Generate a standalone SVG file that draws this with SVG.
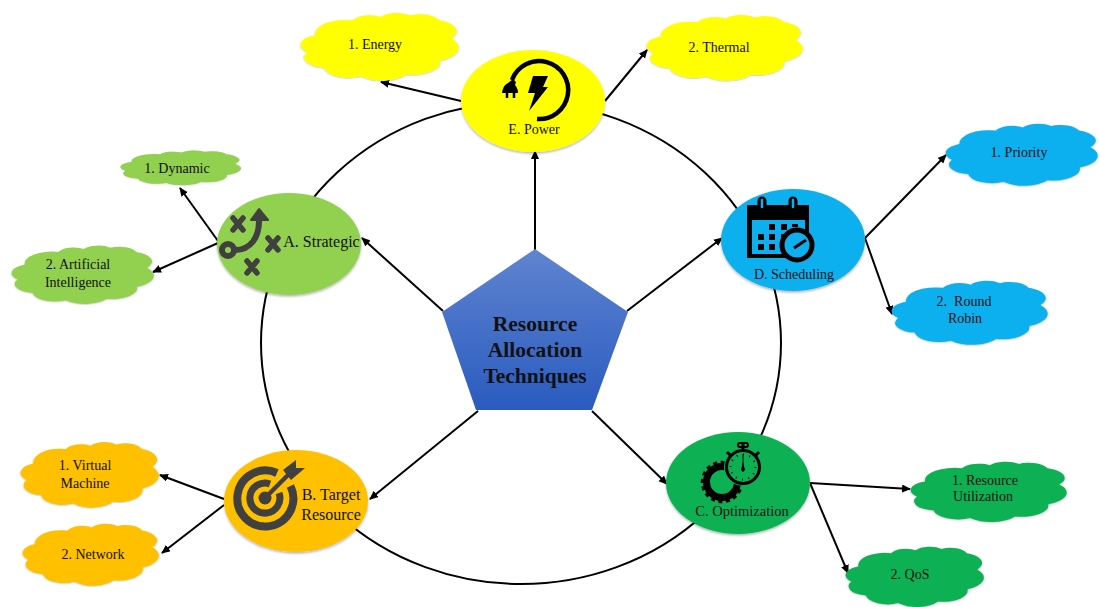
<svg xmlns="http://www.w3.org/2000/svg" width="1099" height="607" viewBox="0 0 1099 607">
<style>
text{font-family:"Liberation Serif","Times New Roman",serif;font-size:14px;fill:#111;text-anchor:middle}
.title{font-weight:bold;font-size:21.500px}
.lg{font-size:16px}
.conn{fill:none;stroke:#000;stroke-width:2;marker-end:url(#arr)}
.ring{fill:none;stroke:#000;stroke-width:2}
.sh{filter:url(#shadow)}
.g{fill:#92d050}.y{fill:#ffff00}.b{fill:#0db0ef}.e{fill:#0cb052}.o{fill:#ffc000}
.dk{fill:none;stroke:#404040;stroke-width:6;stroke-linecap:round}
.dx{fill:none;stroke:#404040;stroke-width:5.500;stroke-linecap:round}
.k{fill:#000}
</style>
<defs>
<filter id="shadow" x="-10%" y="-10%" width="120%" height="125%"><feDropShadow dx="0" dy="1.5" stdDeviation="1.2" flood-color="#000" flood-opacity="0.3"/></filter>
<marker id="arr" markerUnits="userSpaceOnUse" markerWidth="10" markerHeight="10" refX="8" refY="4" orient="auto"><path d="M0,0L9,4L0,8z" fill="#000"/></marker>
<linearGradient id="pent" x1="0" y1="0" x2="0" y2="1"><stop offset="0" stop-color="#5f84d0"/><stop offset="1" stop-color="#2a5bbf"/></linearGradient>
<path id="cloud" d="M-81,-32A28,28 0 0 0 -91,14A28,28 0 0 0 -70,56A31,31 0 0 0 -24,79A36,36 0 0 0 33,74A34,34 0 0 0 75,37A38,38 0 0 0 89,-23A31,31 0 0 0 74,-72A25,25 0 0 0 38,-85A24,24 0 0 0 1,-81A23,23 0 0 0 -34,-72A38,38 0 0 0 -81,-32Z"/>
</defs>
<g id="connectors">
<ellipse class="ring" cx="521" cy="343" rx="260" ry="241"/>
<path class="conn" d="M535,250L535,151"/>
<path class="conn" d="M627,311L722,238"/>
<path class="conn" d="M443,311L362,238"/>
<path class="conn" d="M478,411L370,499"/>
<path class="conn" d="M592,411L667,484"/>
<path class="conn" d="M461,101L381,82"/>
<path class="conn" d="M605,101L647,50"/>
<path class="conn" d="M865,238L946,155"/>
<path class="conn" d="M865,238L892,314"/>
<path class="conn" d="M810,483L910,489"/>
<path class="conn" d="M810,483L848,573"/>
<path class="conn" d="M224,499L160,475"/>
<path class="conn" d="M224,505L162,553"/>
<path class="conn" d="M218,241L180,188"/>
<path class="conn" d="M218,243L153,272"/>
</g>
<g id="center"><path d="M535,249L628,312L592,410L476,410L442,312Z" fill="url(#pent)"/><text class="title" x="535" y="331">Resource</text><text class="title" x="535" y="357">Allocation</text><text class="title" x="535" y="383">Techniques</text></g>
<g id="node-a"><ellipse class="g sh" cx="289" cy="244" rx="72" ry="51"/>
<circle cx="228" cy="250" r="6" fill="none" stroke="#404040" stroke-width="6"/>
<path class="dk" d="M235,250C250,250 260,238 259,218"/><path d="M259,209L268,220L251,220Z" fill="#404040" stroke="#404040" stroke-width="2" stroke-linejoin="round"/>
<path class="dx" d="M233,218L243,230M243,218L233,230M268,238L278,250M278,238L268,250M247,261L257,273M257,261L247,273"/>
<text class="lg" x="321.500" y="247">A. Strategic</text></g>
<g id="node-a1"><use href="#cloud" class="g sh" transform="translate(181,168) scale(.61,.19)"/><text x="177" y="173">1. Dynamic</text></g>
<g id="node-a2"><use href="#cloud" class="g sh" transform="translate(83,275) scale(.72,.32)"/><text x="78" y="269">2. Artificial</text><text x="78" y="287">Intelligence</text></g>
<g id="node-e"><ellipse class="y sh" cx="533" cy="101" rx="72" ry="51"/>
<path d="M537,119A29,29 0 1 0 512,80" fill="none" stroke="#000" stroke-width="4.500"/>
<path class="k" d="M502,93C503,86 506,84 508,83L513,79L516,82L515,85C517,87 518,90 518,93Z"/><path d="M507,93V98M514,93V98" stroke="#000" stroke-width="2.500"/>
<path class="k" d="M533,76L548,76L543,87L548,87L529,111L535,93L528,93Z"/>
<text x="534" y="134">E. Power</text></g>
<g id="node-e1"><use href="#cloud" class="y sh" transform="translate(380,47) scale(.8,.37)"/><text x="375" y="49">1. Energy</text></g>
<g id="node-e2"><use href="#cloud" class="y sh" transform="translate(725,48) scale(.79,.36)"/><text x="719" y="52">2. Thermal</text></g>
<g id="node-d"><ellipse class="b sh" cx="793" cy="240" rx="72" ry="51"/>
<path class="k" d="M747,205H809V258H747Z"/><path class="b" d="M752,220H805V254H752Z"/>
<path d="M762,201V208M793,201V208" stroke="#000" stroke-width="9" stroke-linecap="round"/><path d="M762,200V207M793,200V207" stroke="#0db0ef" stroke-width="2.500" stroke-linecap="round"/>
<path class="k" d="M769,224h6v6h-6zM781,224h6v6h-6zM792,224h6v3h-6zM758,234h6v6h-6zM769,234h6v6h-6zM781,234h6v6h-6zM758,244h6v6h-6zM769,244h6v6h-6z"/>
<circle cx="797" cy="245" r="15" class="b" stroke="#000" stroke-width="5"/>
<path d="M794,248L806,240" stroke="#000" stroke-width="3"/>
<text x="794" y="279">D. Scheduling</text></g>
<g id="node-d1"><use href="#cloud" class="b sh" transform="translate(1022,155) scale(.77,.34)"/><text x="1019" y="157">1. Priority</text></g>
<g id="node-d2"><use href="#cloud" class="b sh" transform="translate(970,313) scale(.79,.35)"/><text x="964" y="306">2. &#160;Round</text><text x="965" y="323">Robin</text></g>
<g id="node-c"><ellipse class="e sh" cx="738" cy="483" rx="72" ry="51"/>
<circle cx="722" cy="482" r="15.500" fill="none" stroke="#000" stroke-width="7"/>
<circle cx="722" cy="482" r="19.500" fill="none" stroke="#000" stroke-width="3.500" stroke-dasharray="4 3.5"/>
<circle cx="743" cy="467" r="19" class="e"/>
<circle cx="743" cy="467" r="16.500" class="e" stroke="#000" stroke-width="3"/>
<circle cx="743" cy="467" r="12.500" fill="none" stroke="#000" stroke-width="2" stroke-dasharray="1 5.500"/>
<path d="M743,454V470" stroke="#000"/><path class="k" d="M743,462L745,470L743,472L741,470Z"/>
<path d="M743,450V444" stroke="#000" stroke-width="3"/><rect x="738" y="443" width="10" height="4" rx="2" fill="none" stroke="#000" stroke-width="2"/>
<path d="M727,452L731,456M759,452L755,456" stroke="#000" stroke-width="3"/>
<text x="742" y="516" style="font-size:14.500px">C. Optimization</text></g>
<g id="node-c1"><use href="#cloud" class="e sh" transform="translate(989,492) scale(.79,.33)"/><text x="985" y="485">1. Resource</text><text x="983" y="501">Utilization</text></g>
<g id="node-c2"><use href="#cloud" class="e sh" transform="translate(915,577) scale(.7,.33)"/><text x="910" y="579">2. QoS</text></g>
<g id="node-b"><ellipse class="o sh" cx="296" cy="501" rx="72" ry="51"/>
<path d="M277,473A28,28 0 1 0 290.400,486" fill="none" stroke="#404040" stroke-width="8"/>
<path d="M270,484A15,15 0 1 0 279,493" fill="none" stroke="#404040" stroke-width="7"/>
<circle cx="265" cy="498" r="6.500" fill="#404040"/>
<path d="M265,498L288,475" stroke="#404040" stroke-width="4.500"/>
<path d="M283,470L296,460L296,468L305,468L291,480Z" fill="#404040"/>
<text class="lg" x="331" y="500">B. Target</text><text class="lg" x="331" y="520">Resource</text></g>
<g id="node-b1"><use href="#cloud" class="o sh" transform="translate(90,475) scale(.7,.36)"/><text x="85" y="470">1. Virtual</text><text x="85" y="488">Machine</text></g>
<g id="node-b2"><use href="#cloud" class="o sh" transform="translate(91,555) scale(.69,.34)"/><text x="93" y="559">2. Network</text></g>
</svg>
